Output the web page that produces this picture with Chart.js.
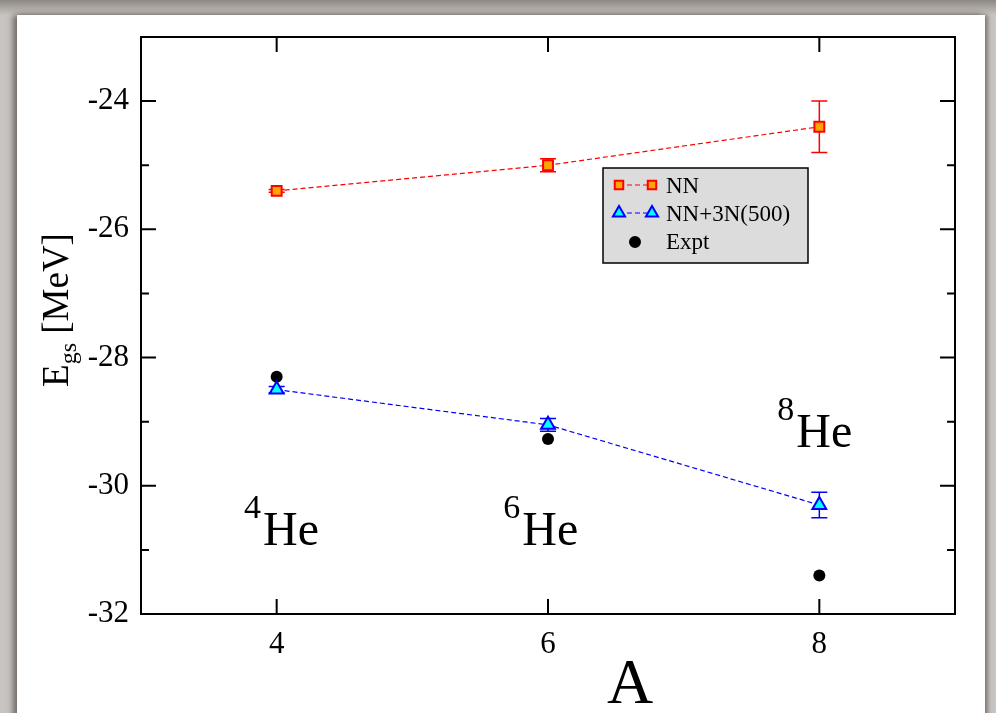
<!DOCTYPE html>
<html>
<head>
<meta charset="utf-8">
<title>He isotopes ground-state energy</title>
<script src="https://cdn.jsdelivr.net/npm/chart.js@4/dist/chart.umd.min.js"></script>
<style>
html, body { margin: 0; padding: 0; }
body {
    width: 996px; height: 713px; position: relative; overflow: hidden;
    background: linear-gradient(to bottom, #8e8884 0px, #c8c4c1 15px, #c8c4c1 100%);
}
#sheet {
    position: absolute; left: 17px; top: 15px; width: 968px; height: 720px;
    background: #fff;
    box-shadow: -4px 0 6px rgba(70, 60, 55, 0.65), 3px 0 4px rgba(70, 60, 55, 0.5);
}
#chart { position: absolute; left: 0; top: 0; }
</style>
</head>
<body>
<div id="sheet"></div>
<canvas id="chart" width="996" height="713"></canvas>
<script>
// mass number A of the helium isotopes
const massNumbers = [4, 6, 8];

// ground-state energies in MeV
const nnEnergy = [-25.4, -25.0, -24.4];
const nnError = [0.02, 0.1, 0.4];
const nn3nEnergy = [-28.5, -29.05, -30.3];
const nn3nError = [0.05, 0.1, 0.2];
const exptEnergy = [-28.3, -29.27, -31.4];

const seriesNames = ['NN', 'NN+3N(500)', 'Expt'];
const isotopeMass = ['4', '6', '8'];
const xTitle = 'A';

const serif = '"Liberation Serif", "Times New Roman", serif';

function points(ys) {
    return massNumbers.map((a, i) => ({ x: a, y: ys[i] }));
}

// error bars drawn under the markers
const errorBars = {
    id: 'errorBars',
    beforeDatasetsDraw(chart) {
        const ctx = chart.ctx;
        const yScale = chart.scales.y;
        chart.data.datasets.forEach((ds, i) => {
            if (!ds.errors) return;
            const meta = chart.getDatasetMeta(i);
            ctx.save();
            ctx.strokeStyle = ds.borderColor;
            ctx.lineWidth = 1.5;
            meta.data.forEach((pt, j) => {
                const e = ds.errors[j];
                const v = ds.data[j].y;
                const top = yScale.getPixelForValue(v + e);
                const bot = yScale.getPixelForValue(v - e);
                ctx.beginPath();
                ctx.moveTo(pt.x, top); ctx.lineTo(pt.x, bot);
                ctx.moveTo(pt.x - 8, top); ctx.lineTo(pt.x + 8, top);
                ctx.moveTo(pt.x - 8, bot); ctx.lineTo(pt.x + 8, bot);
                ctx.stroke();
            });
            ctx.restore();
        });
    }
};

// box frame with inward ticks on all four sides
const frame = {
    id: 'frame',
    afterDraw(chart) {
        const { ctx, chartArea: a } = chart;
        const x = chart.scales.x, y = chart.scales.y;
        ctx.save();
        ctx.strokeStyle = '#000';
        ctx.lineWidth = 2;
        ctx.strokeRect(a.left, a.top, a.right - a.left, a.bottom - a.top);
        ctx.beginPath();
        x.ticks.forEach(t => {
            const px = x.getPixelForValue(t.value);
            ctx.moveTo(px, a.bottom); ctx.lineTo(px, a.bottom - 15);
            ctx.moveTo(px, a.top); ctx.lineTo(px, a.top + 15);
        });
        y.ticks.forEach(t => {
            if (t.value <= y.min || t.value >= y.max) return;
            const len = t.value % 2 === 0 ? 15 : 8;
            const py = y.getPixelForValue(t.value);
            ctx.moveTo(a.left, py); ctx.lineTo(a.left + len, py);
            ctx.moveTo(a.right, py); ctx.lineTo(a.right - len, py);
        });
        ctx.stroke();
        ctx.restore();
    }
};

function marker(ctx, style, cx, cy, r, fill, stroke) {
    ctx.save();
    ctx.fillStyle = fill;
    ctx.strokeStyle = stroke;
    ctx.lineWidth = 2;
    ctx.beginPath();
    if (style === 'rect') {
        const s = r * Math.SQRT1_2;
        ctx.rect(cx - s, cy - s, 2 * s, 2 * s);
    } else if (style === 'triangle') {
        ctx.moveTo(cx, cy - r);
        ctx.lineTo(cx + r * 0.866, cy + r * 0.5);
        ctx.lineTo(cx - r * 0.866, cy + r * 0.5);
        ctx.closePath();
    } else {
        ctx.arc(cx, cy, r, 0, Math.PI * 2);
    }
    ctx.fill();
    ctx.stroke();
    ctx.restore();
}

// titles, isotope labels and the boxed legend
const texts = {
    id: 'texts',
    afterDraw(chart, args, opts) {
        const ctx = chart.ctx;
        const x = chart.scales.x, y = chart.scales.y;
        ctx.save();
        ctx.fillStyle = '#000';

        // y title: E_gs [MeV]
        ctx.save();
        ctx.translate(68, 310);
        ctx.rotate(-Math.PI / 2);
        ctx.textBaseline = 'alphabetic';
        ctx.textAlign = 'left';
        ctx.font = '37px ' + serif;
        const wE = ctx.measureText('E').width;
        ctx.font = '24px ' + serif;
        const wS = ctx.measureText('gs').width;
        ctx.font = '37px ' + serif;
        const wM = ctx.measureText(' [MeV]').width;
        let px = -(wE + wS + wM) / 2;
        ctx.fillText('E', px, 0); px += wE;
        ctx.font = '24px ' + serif;
        ctx.fillText('gs', px, 8); px += wS;
        ctx.font = '37px ' + serif;
        ctx.fillText(' [MeV]', px, 0);
        ctx.restore();

        // x title
        ctx.font = '64px ' + serif;
        ctx.textAlign = 'center';
        ctx.textBaseline = 'alphabetic';
        ctx.fillText(xTitle, 630, 703);

        // isotope labels
        opts.anchors.forEach((p, i) => {
            const ax = x.getPixelForValue(p.x);
            const ay = y.getPixelForValue(p.y);
            ctx.font = '34px ' + serif;
            ctx.textAlign = 'right';
            ctx.fillText(isotopeMass[i], ax - 2, ay - 27);
            ctx.font = '48px ' + serif;
            ctx.textAlign = 'left';
            ctx.fillText('He', ax, ay);
        });

        // legend
        const L = opts.legend;
        ctx.fillStyle = '#dcdcdc';
        ctx.fillRect(L.x, L.y, L.w, L.h);
        ctx.strokeStyle = '#000';
        ctx.lineWidth = 1.5;
        ctx.strokeRect(L.x, L.y, L.w, L.h);
        ctx.font = '23px ' + serif;
        ctx.textAlign = 'left';
        chart.data.datasets.forEach((ds, i) => {
            const ry = L.y + 17 + i * 28;
            if (ds.showLine) {
                ctx.save();
                ctx.strokeStyle = ds.borderColor;
                ctx.lineWidth = 1.2;
                ctx.setLineDash(ds.borderDash);
                ctx.beginPath();
                ctx.moveTo(L.x + 16, ry); ctx.lineTo(L.x + 49, ry);
                ctx.stroke();
                ctx.restore();
                marker(ctx, ds.pointStyle, L.x + 16, ry, ds.pointRadius - 1, ds.pointBackgroundColor, ds.pointBorderColor);
                marker(ctx, ds.pointStyle, L.x + 49, ry, ds.pointRadius - 1, ds.pointBackgroundColor, ds.pointBorderColor);
            } else {
                marker(ctx, ds.pointStyle, L.x + 32, ry + 1, ds.pointRadius - 1, ds.pointBackgroundColor, ds.pointBorderColor);
            }
            ctx.fillStyle = '#000';
            ctx.fillText(ds.label, L.x + 63, ry + 8);
        });
        ctx.restore();
    }
};

new Chart(document.getElementById('chart'), {
    type: 'scatter',
    data: {
        datasets: [{
            label: seriesNames[0],
            data: points(nnEnergy),
            errors: nnError,
            showLine: true,
            borderColor: '#ff0000',
            borderWidth: 1.2,
            borderDash: [5, 3],
            pointStyle: 'rect',
            pointRadius: 7,
            pointBorderWidth: 2,
            pointBackgroundColor: '#ffa500',
            pointBorderColor: '#ff0000'
        }, {
            label: seriesNames[1],
            data: points(nn3nEnergy),
            errors: nn3nError,
            showLine: true,
            borderColor: '#0000ff',
            borderWidth: 1.2,
            borderDash: [5, 3],
            pointStyle: 'triangle',
            pointRadius: 8,
            pointBorderWidth: 2,
            pointBackgroundColor: '#00ffff',
            pointBorderColor: '#0000ff'
        }, {
            label: seriesNames[2],
            data: points(exptEnergy),
            showLine: false,
            borderColor: '#000000',
            pointStyle: 'circle',
            pointRadius: 6,
            pointBorderWidth: 0,
            pointBackgroundColor: '#000000',
            pointBorderColor: '#000000'
        }]
    },
    options: {
        responsive: false,
        animation: false,
        events: [],
        layout: {
            padding: { left: 0, right: 41, top: 37, bottom: 0 }
        },
        plugins: {
            legend: { display: false },
            tooltip: { enabled: false },
            texts: {
                anchors: [{ x: 3.9, y: -30.92 }, { x: 5.81, y: -30.92 }, { x: 7.83, y: -29.39 }],
                legend: { x: 603, y: 168, w: 205, h: 95 }
            }
        },
        scales: {
            x: {
                type: 'linear',
                min: 3,
                max: 9,
                grid: { display: false, drawTicks: false },
                border: { display: false },
                afterBuildTicks: function(scale) {
                    scale.ticks = massNumbers.map(v => ({ value: v }));
                },
                ticks: {
                    padding: 12,
                    color: '#000',
                    font: { family: serif, size: 31 }
                },
                afterFit: function(scale) { scale.height = 99; }
            },
            y: {
                min: -32,
                max: -23,
                grid: { display: false, drawTicks: false },
                border: { display: false },
                ticks: {
                    stepSize: 1,
                    padding: 12,
                    color: '#000',
                    font: { family: serif, size: 31 },
                    callback: function(value) {
                        return value % 2 === 0 ? String(value) : '';
                    }
                },
                afterFit: function(scale) { scale.width = 141; }
            }
        }
    },
    plugins: [errorBars, frame, texts]
});
</script>
</body>
</html>
